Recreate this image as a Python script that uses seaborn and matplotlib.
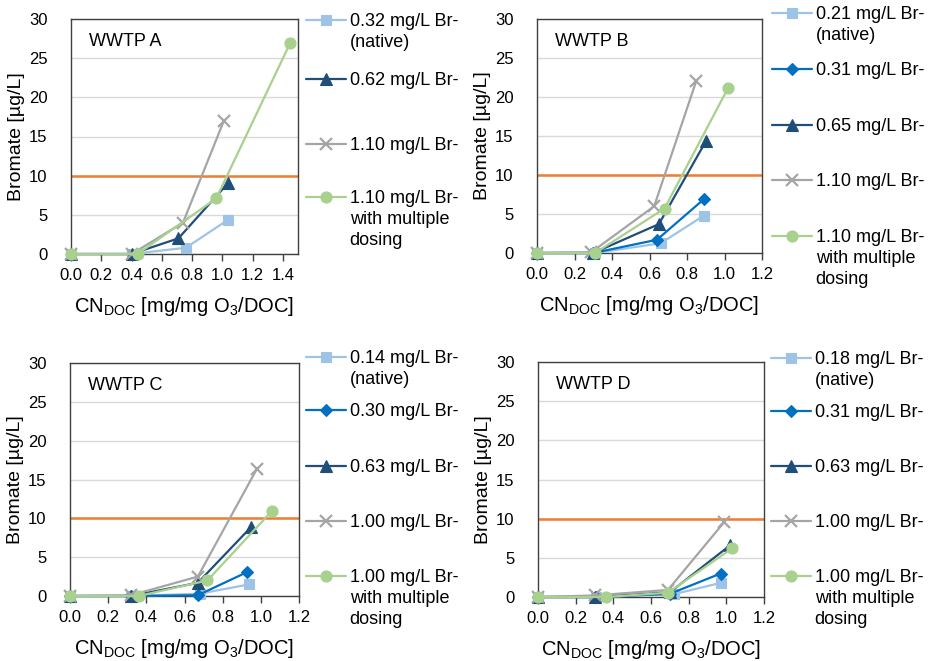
import matplotlib
matplotlib.use("Agg")
import matplotlib.pyplot as plt
import seaborn as sns
from matplotlib.legend import Legend
from matplotlib.ticker import MultipleLocator, FormatStrFormatter

sns.set_theme(style="white")
plt.rcParams['font.family'] = ['Liberation Sans', 'DejaVu Sans']
plt.rcParams['mathtext.fontset'] = 'custom'
plt.rcParams['mathtext.rm'] = 'Liberation Sans'
plt.rcParams['mathtext.it'] = 'Liberation Sans:italic'
plt.rcParams['mathtext.bf'] = 'Liberation Sans:bold'
plt.rcParams['text.color'] = 'black'
plt.rcParams['axes.labelcolor'] = 'black'
plt.rcParams['xtick.color'] = 'black'
plt.rcParams['ytick.color'] = 'black'

# ---------------- data ----------------
panel_titles = ["WWTP A", "WWTP B", "WWTP C", "WWTP D"]
x_max = [1.5, 1.2, 1.2, 1.2]
limit_value = 10

# WWTP A
a_kinds = ["native", "tri", "x", "multi"]
a_labels = ["0.32 mg/L Br-\n(native)", "0.62 mg/L Br-", "1.10 mg/L Br-",
            "1.10 mg/L Br-\nwith multiple\ndosing"]
a_x = [[0.0, 0.40, 0.76, 1.04],
       [0.0, 0.40, 0.71, 1.04],
       [0.0, 0.40, 0.74, 1.01],
       [0.0, 0.44, 0.96, 1.45]]
a_y = [[0.0, 0.0, 0.8, 4.4],
       [0.0, 0.0, 2.0, 9.1],
       [0.0, 0.0, 4.0, 17.0],
       [0.0, 0.0, 7.1, 27.0]]

# WWTP B
b_kinds = ["native", "dia", "tri", "x", "multi"]
b_labels = ["0.21 mg/L Br-\n(native)", "0.31 mg/L Br-", "0.65 mg/L Br-",
            "1.10 mg/L Br-", "1.10 mg/L Br-\nwith multiple\ndosing"]
b_x = [[0.0, 0.31, 0.66, 0.89],
       [0.0, 0.30, 0.64, 0.89],
       [0.0, 0.30, 0.65, 0.90],
       [0.0, 0.29, 0.625, 0.85],
       [0.0, 0.31, 0.68, 1.02]]
b_y = [[0.0, 0.0, 1.25, 4.8],
       [0.0, 0.0, 1.7, 6.9],
       [0.0, 0.0, 3.7, 14.3],
       [0.0, 0.1, 6.0, 22.1],
       [0.0, 0.0, 5.7, 21.2]]

# WWTP C
c_kinds = ["native", "dia", "tri", "x", "multi"]
c_labels = ["0.14 mg/L Br-\n(native)", "0.30 mg/L Br-", "0.63 mg/L Br-",
            "1.00 mg/L Br-", "1.00 mg/L Br-\nwith multiple\ndosing"]
c_x = [[0.0, 0.32, 0.68, 0.94],
       [0.0, 0.32, 0.67, 0.93],
       [0.0, 0.32, 0.67, 0.95],
       [0.0, 0.32, 0.67, 0.98],
       [0.0, 0.36, 0.72, 1.06]]
c_y = [[0.0, 0.0, 0.3, 1.5],
       [0.0, 0.0, 0.1, 3.1],
       [0.0, 0.0, 1.7, 8.9],
       [0.0, 0.1, 2.5, 16.4],
       [0.0, 0.0, 2.0, 11.0]]

# WWTP D
d_kinds = ["native", "dia", "tri", "x", "multi"]
d_labels = ["0.18 mg/L Br-\n(native)", "0.31 mg/L Br-", "0.63 mg/L Br-",
            "1.00 mg/L Br-", "1.00 mg/L Br-\nwith multiple\ndosing"]
d_x = [[0.0, 0.31, 0.72, 0.97],
       [0.0, 0.31, 0.70, 0.97],
       [0.0, 0.30, 0.70, 1.02],
       [0.0, 0.30, 0.69, 0.99],
       [0.0, 0.36, 0.69, 1.03]]
d_y = [[0.0, 0.0, 0.35, 1.8],
       [0.0, 0.0, 0.4, 3.0],
       [0.0, 0.0, 0.6, 6.6],
       [0.0, 0.2, 0.9, 9.6],
       [0.0, 0.0, 0.55, 6.2]]

# ---------------- styles ----------------
styles = {
    "native": dict(color="#9DC3E6", marker="s", markersize=7.5),
    "dia":    dict(color="#0070C0", marker="D", markersize=6),
    "tri":    dict(color="#1F4E79", marker="^", markersize=8),
    "x":      dict(color="#A5A5A5", marker="x", markersize=8),
    "multi":  dict(color="#A9D18E", marker="o", markersize=8),
}

panels = [(a_kinds, a_labels, a_x, a_y),
          (b_kinds, b_labels, b_x, b_y),
          (c_kinds, c_labels, c_x, c_y),
          (d_kinds, d_labels, d_x, d_y)]

W, H = 930, 661
# axes boxes in pixels: left, top, right, bottom
boxes = [(71, 19, 298, 254), (537, 19, 762, 253),
         (70, 363, 299, 596), (538, 362, 764, 597)]
# legend: handle left x, and first-line centre y of each entry (pixels)
legend_x = [306, 772, 306, 771]
legend_y = [[23, 82, 147, 200],
            [16, 72, 128, 183, 239],
            [360, 413, 469, 524, 579],
            [361, 414, 469, 524, 579]]

fig = plt.figure(figsize=(W / 100, H / 100), dpi=100)

for i, ((kinds, labels, xs, ys), (l, t, r, b)) in enumerate(zip(panels, boxes)):
    ax = fig.add_axes([l / W, 1 - b / H, (r - l) / W, (b - t) / H])
    ax.axhline(limit_value, color="#ED7D31", linewidth=1.8, zorder=1)
    for kind, lab, xv, yv in zip(kinds, labels, xs, ys):
        st = styles[kind]
        mew = 1.6 if kind == "x" else 0.8
        sns.lineplot(x=xv, y=yv, ax=ax, color=st["color"], marker=st["marker"],
                     markersize=st["markersize"], markeredgecolor=st["color"],
                     markerfacecolor=st["color"], markeredgewidth=mew,
                     linewidth=1.6, label=lab, estimator=None, sort=False,
                     zorder=3, clip_on=False)
    ax.set_xlim(0, x_max[i])
    ax.set_ylim(0, 30)
    ax.xaxis.set_major_locator(MultipleLocator(0.2))
    ax.yaxis.set_major_locator(MultipleLocator(5))
    ax.xaxis.set_major_formatter(FormatStrFormatter("%.1f"))
    ax.grid(axis="y", color="#D9D9D9", linewidth=1.0)
    ax.set_axisbelow(True)
    for sp in ax.spines.values():
        sp.set_color("#404040")
        sp.set_linewidth(1.0)
        sp.set_zorder(2.5)
    ax.tick_params(axis="x", which="major", bottom=True, length=5, width=1,
                   color="#404040", labelsize=12, pad=5, labelcolor="black")
    ax.tick_params(axis="y", left=False, labelsize=12, pad=11, labelcolor="black")
    ax.set_ylabel("Bromate [µg/L]", fontsize=14, color="black")
    ax.yaxis.set_label_coords(-46 / (r - l), 0.5)
    ax.set_xlabel(r"CN$_{\mathrm{DOC}}$ [mg/mg O$_3$/DOC]", fontsize=14.5,
                  color="black", labelpad=9)
    ax.text(18 / (r - l), 1 - 22 / (b - t), panel_titles[i], transform=ax.transAxes,
            fontsize=13, va="center", ha="left", color="black")

    handles, hlabels = ax.get_legend_handles_labels()
    if ax.get_legend() is not None:
        ax.get_legend().remove()
    for j, (h, lab) in enumerate(zip(handles, hlabels)):
        leg = Legend(ax, [h], [lab], loc="upper left",
                     bbox_to_anchor=(legend_x[i] / W, 1 - (legend_y[i][j] - 10) / H),
                     bbox_transform=fig.transFigure, frameon=False, fontsize=13,
                     borderpad=0, borderaxespad=0, handlelength=2.2,
                     handleheight=1.0, handletextpad=0.22, labelcolor="black")
        for txt in leg.get_texts():
            txt.set_linespacing(1.3)
        for col in leg._legend_handle_box.get_children():
            for row in col.get_children():
                row.align = "top"
        ax.add_artist(leg)

fig.savefig("out.png", dpi=100)
